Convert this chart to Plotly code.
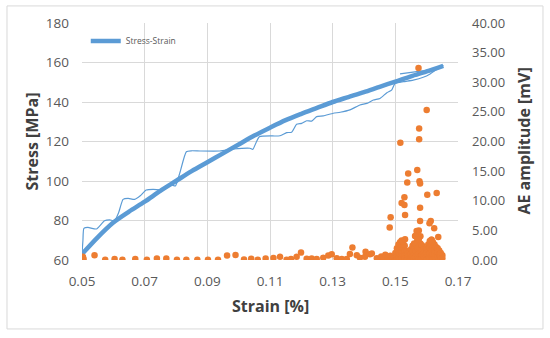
import plotly.graph_objects as go

# Smoothed stress-strain curve (thick)
curve_strain = [0.050, 0.055, 0.060, 0.065, 0.070, 0.075, 0.080, 0.085, 0.090, 0.095,
                0.100, 0.105, 0.110, 0.115, 0.120, 0.125, 0.130, 0.135, 0.140, 0.145,
                0.150, 0.155, 0.160, 0.1653]
curve_stress = [63.0, 71.5, 79.0, 84.5, 89.5, 95.0, 100.0, 105.0, 109.5, 114.0,
                118.5, 123.0, 127.0, 130.8, 134.0, 137.0, 140.0, 142.5, 145.0, 147.7,
                150.3, 153.0, 155.5, 158.3]

# Raw stress-strain record (thin)
raw_strain = [0.0500, 0.0503, 0.0506, 0.0519, 0.0546, 0.0572, 0.0588, 0.0604, 0.0617, 0.0631,
              0.0647, 0.0668, 0.0686, 0.0705, 0.0727, 0.0753, 0.0770, 0.0785, 0.0798, 0.0812,
              0.0833, 0.0849, 0.0877, 0.0940, 0.0983, 0.1036, 0.1045, 0.1066, 0.1132, 0.1153,
              0.1169, 0.1185, 0.1201, 0.1217, 0.1233, 0.1249, 0.1270, 0.1302, 0.1324, 0.1355,
              0.1387, 0.1409, 0.1430, 0.1451, 0.1473, 0.1488, 0.1499, 0.1526, 0.1557, 0.1589,
              0.1611, 0.1632, 0.1653, 0.1611, 0.1568, 0.1515]
raw_stress = [63.0, 70.0, 76.0, 76.5, 75.7, 79.9, 80.3, 79.9, 84.0, 90.7,
              91.2, 90.7, 92.5, 95.4, 95.8, 95.4, 96.5, 98.0, 97.5, 104.0,
              114.8, 115.3, 115.2, 115.2, 116.2, 116.6, 116.0, 122.4, 122.9, 124.5,
              124.7, 128.7, 129.2, 130.5, 130.3, 132.6, 133.0, 134.3, 134.8, 136.0,
              138.5, 139.3, 141.0, 141.8, 144.7, 146.0, 149.4, 150.3, 151.1, 152.5,
              154.2, 156.5, 158.4, 156.2, 155.4, 154.2]

# AE amplitude events: sparse part
ae_strain = [0.0503, 0.0505, 0.0540, 0.0574, 0.0604, 0.0629, 0.0670, 0.0707, 0.0739, 0.0769,
             0.0803, 0.0833, 0.0868, 0.0902, 0.0934, 0.0963, 0.0990, 0.1017, 0.1040, 0.1061,
             0.1086, 0.1111, 0.1132, 0.1153, 0.1167, 0.1185, 0.1199, 0.1217, 0.1233, 0.1249,
             0.1270, 0.1286, 0.1297, 0.1313, 0.1329, 0.1345, 0.1355, 0.1363, 0.1377, 0.1387,
             0.1403, 0.1405, 0.1419, 0.1425, 0.1441, 0.1447, 0.1455, 0.1462, 0.1468, 0.1474,
             0.1479, 0.1484, 0.1488, 0.1492, 0.1496, 0.1482, 0.1485]
ae_amp = [0.55, 0.15, 0.80, 0.05, 0.15, 0.05, 0.15, 0.05, 0.25, 0.25,
          0.05, 0.05, 0.05, 0.05, 0.05, 0.75, 0.85, 0.10, 0.20, 0.05,
          0.25, 0.35, 0.55, 0.05, 0.15, 0.55, 1.25, 0.20, 0.25, 0.15,
          0.40, 0.75, 0.95, 0.30, 0.15, 0.15, 1.00, 2.10, 0.80, 0.40,
          0.55, 1.40, 0.95, 1.10, 0.30, 0.10, 0.60, 0.20, 0.90, 0.40,
          0.10, 0.70, 0.30, 0.05, 0.50, 5.50, 7.20]

# AE amplitude events: dense burst near failure
burst_strain = [0.1500, 0.1500, 0.1500, 0.1500, 0.1505, 0.1505, 0.1505, 0.1505,
                0.1510, 0.1510, 0.1510, 0.1510, 0.1515, 0.1515, 0.1515, 0.1515,
                0.1520, 0.1520, 0.1520, 0.1520, 0.1525, 0.1525, 0.1525, 0.1525,
                0.1530, 0.1530, 0.1530, 0.1530, 0.1535, 0.1535, 0.1535,
                0.1540, 0.1540, 0.1540, 0.1545, 0.1545, 0.1545,
                0.1550, 0.1550, 0.1550, 0.1550, 0.1555, 0.1555, 0.1555, 0.1555,
                0.1560, 0.1560, 0.1560, 0.1560, 0.1565, 0.1565, 0.1565, 0.1565,
                0.1570, 0.1570, 0.1570, 0.1570, 0.1570, 0.1575, 0.1575, 0.1575, 0.1575, 0.1575,
                0.1580, 0.1580, 0.1580, 0.1580, 0.1580, 0.1585, 0.1585, 0.1585, 0.1585,
                0.1590, 0.1590, 0.1590, 0.1590, 0.1595, 0.1595, 0.1595,
                0.1600, 0.1600, 0.1600, 0.1600, 0.1605, 0.1605, 0.1605, 0.1605,
                0.1610, 0.1610, 0.1610, 0.1610, 0.1615, 0.1615, 0.1615, 0.1615,
                0.1620, 0.1620, 0.1620, 0.1620, 0.1625, 0.1625, 0.1625, 0.1625,
                0.1630, 0.1630, 0.1630, 0.1630, 0.1635, 0.1635, 0.1635,
                0.1640, 0.1640, 0.1640, 0.1645, 0.1645, 0.1645, 0.1650, 0.1650]
burst_amp = [1.2, 0.7, 0.3, 0.05, 2.0, 1.3, 0.6, 0.1,
             2.6, 1.7, 0.9, 0.2, 3.0, 2.0, 1.0, 0.1,
             3.3, 2.2, 1.2, 0.3, 3.1, 2.0, 1.0, 0.1,
             2.4, 1.5, 0.7, 0.2, 1.5, 0.9, 0.3,
             1.0, 0.5, 0.1, 1.3, 0.7, 0.2,
             1.8, 1.0, 0.4, 0.05, 2.4, 1.5, 0.7, 0.1,
             2.8, 1.8, 0.9, 0.2, 4.0, 2.7, 1.5, 0.5,
             4.8, 3.3, 2.0, 0.8, 0.1, 5.0, 3.6, 2.2, 1.0, 0.2,
             4.0, 2.8, 1.6, 0.6, 0.1, 2.5, 1.6, 0.8, 0.2,
             1.8, 1.1, 0.5, 0.1, 1.5, 0.9, 0.3,
             2.0, 1.2, 0.5, 0.1, 2.6, 1.7, 0.8, 0.2,
             3.2, 2.1, 1.1, 0.3, 3.4, 2.3, 1.2, 0.2,
             3.0, 2.0, 1.0, 0.1, 2.6, 1.7, 0.8, 0.3,
             2.2, 1.4, 0.6, 0.1, 2.0, 1.2, 0.5,
             1.6, 0.9, 0.3, 1.2, 0.6, 0.1, 0.8, 0.3]

# AE amplitude events: high-amplitude outliers
peak_strain = [0.1574, 0.1600, 0.1576, 0.1576, 0.1516, 0.1570, 0.1541, 0.1538, 0.1577, 0.1579,
               0.1602, 0.1632, 0.1529, 0.1520, 0.1529, 0.1531, 0.1579, 0.1579, 0.1613, 0.1609,
               0.1624, 0.1637, 0.1568, 0.1563, 0.1524, 0.1573, 0.1616, 0.1531]
peak_amp = [32.4, 25.3, 22.2, 20.4, 19.8, 15.2, 14.6, 13.1, 13.3, 12.9,
            11.0, 11.3, 10.6, 9.6, 9.3, 7.6, 8.8, 6.6, 6.6, 6.2,
            5.35, 3.9, 4.9, 4.05, 3.1, 3.5, 3.4, 3.5]

x_ticks = [0.05, 0.07, 0.09, 0.11, 0.13, 0.15, 0.17]

BLUE = "#5B9BD5"
ORANGE = "#ED7D31"
GRID = "#D9D9D9"
TICK = "#595959"
TITLE = "#404040"
FONT = "Open Sans"

fig = go.Figure()

fig.add_trace(go.Scatter(
    x=raw_strain, y=raw_stress, mode="lines", showlegend=False,
    line=dict(color=BLUE, width=1.2, shape="spline", smoothing=0.5),
    hoverinfo="skip"))

fig.add_trace(go.Scatter(
    x=curve_strain, y=curve_stress, mode="lines", name="Stress-Strain",
    line=dict(color=BLUE, width=4.5, shape="spline", smoothing=0.8)))

fig.add_trace(go.Scatter(
    x=ae_strain + burst_strain + peak_strain,
    y=ae_amp + burst_amp + peak_amp,
    mode="markers", showlegend=False, yaxis="y2",
    marker=dict(color=ORANGE, size=6.5, line=dict(width=0))))

fig.update_layout(
    width=550, height=338,
    margin=dict(l=82, r=92, t=23, b=78),
    paper_bgcolor="white", plot_bgcolor="white",
    font=dict(family=FONT, color=TICK, size=13),
    xaxis=dict(range=[0.05, 0.17], tickvals=x_ticks, tickformat=".2f",
               showgrid=True, gridcolor=GRID, gridwidth=1, zeroline=False,
               showline=False, ticks="", ticklabelstandoff=11,
               tickfont=dict(size=13.5, color=TICK)),
    yaxis=dict(range=[60, 180], dtick=20, showgrid=True, gridcolor=GRID,
               gridwidth=1, zeroline=False, showline=False, ticks="",
               ticklabelstandoff=12, tickfont=dict(size=13.5, color=TICK)),
    yaxis2=dict(range=[0, 40], dtick=5, tickformat=".2f", overlaying="y",
                side="right", showgrid=False, zeroline=False, showline=False,
                ticks="", ticklabelstandoff=13, tickfont=dict(size=13, color=TICK)),
    legend=dict(x=0.01, y=0.985, xanchor="left", yanchor="top",
                bgcolor="rgba(0,0,0,0)", font=dict(size=8.5, color=TICK),
                itemwidth=30),
    showlegend=True,
    annotations=[
        dict(text="<b>Stress [MPa]</b>", xref="paper", yref="paper",
             x=-0.133, y=0.5, xanchor="center", yanchor="middle",
             textangle=-90, showarrow=False, font=dict(size=16, color=TITLE)),
        dict(text="<b>AE amplitude [mV]</b>", xref="paper", yref="paper",
             x=1.173, y=0.5, xanchor="center", yanchor="middle",
             textangle=-90, showarrow=False, font=dict(size=16, color=TITLE)),
        dict(text="<b>Strain [%]</b>", xref="paper", yref="paper",
             x=0.5, y=-0.194, xanchor="center", yanchor="middle",
             showarrow=False, font=dict(size=16, color=TITLE)),
    ],
    shapes=[dict(type="rect", xref="paper", yref="paper",
                 x0=-0.1995, x1=1.226, y0=-0.291, y1=1.072,
                 line=dict(color=GRID, width=1), fillcolor="rgba(0,0,0,0)",
                 layer="below")],
)

fig.write_html("out.html", config={"displayModeBar": False},
               post_script="document.body.style.margin='0';")
